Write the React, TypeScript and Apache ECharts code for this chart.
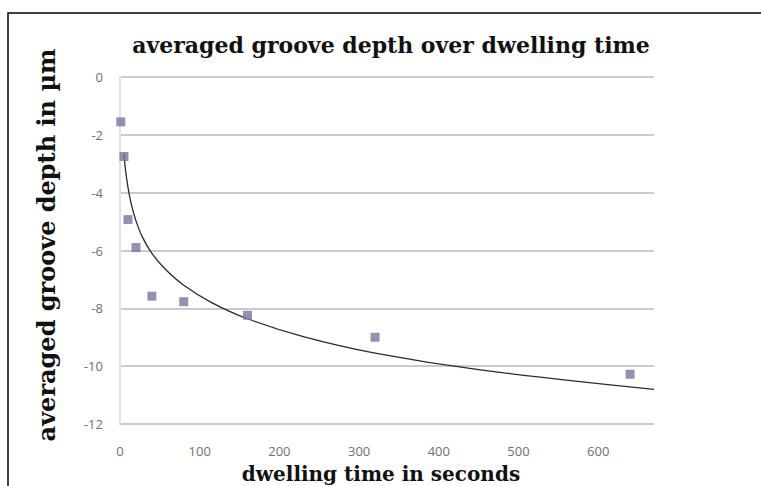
import React, { useEffect, useRef } from "react";
import * as echarts from "echarts";

const TITLE = "averaged groove depth over dwelling time";
const X_NAME = "dwelling time in seconds";
const Y_NAME = "averaged groove depth in µm";

// measured points: [dwelling time (s), groove depth (µm)]
const dwellTimes = [1, 5, 10, 20, 40, 80, 160, 320, 640];
const depths = [-1.55, -2.75, -4.93, -5.9, -7.58, -7.77, -8.24, -9.0, -10.28];

// logarithmic trend line
const trendX = [5, 7, 10, 14, 20, 28, 40, 56, 80, 115, 160, 230, 320, 450, 670];
const trendY = [-2.67, -3.23, -3.82, -4.38, -4.97, -5.53, -6.1, -6.62, -7.2, -7.8, -8.36, -8.98, -9.55, -10.12, -10.8];

const X_MIN = 0;
const X_MAX = 670;
const X_STEP = 100;
const Y_MIN = -12;
const Y_MAX = 0;
const Y_STEP = 2;

export default function App() {
  const ref = useRef<HTMLDivElement>(null);
  useEffect(() => {
    if (!ref.current) return;
    const chart = echarts.init(ref.current, undefined, { renderer: "svg" });
    const serif = "'DejaVu Serif', serif";
    chart.setOption({
      animation: false,
      backgroundColor: "#ffffff",
      grid: { left: 120, right: 107, top: 77, bottom: 62, containLabel: false },
      xAxis: {
        type: "value",
        min: X_MIN,
        max: X_MAX,
        interval: X_STEP,
        axisLine: { show: false },
        axisTick: { show: false },
        splitLine: { show: false },
        axisLabel: {
          showMaxLabel: false,
          color: "#6f6f6f",
          fontFamily: "'Open Sans', sans-serif",
          fontSize: 13,
          margin: 20,
        },
      },
      yAxis: {
        type: "value",
        min: Y_MIN,
        max: Y_MAX,
        interval: Y_STEP,
        axisLine: { show: true, lineStyle: { color: "#e2e2e2", width: 2 } },
        axisTick: { show: false },
        splitLine: { show: true, lineStyle: { color: "#b9b9b9", width: 1.5 } },
        axisLabel: {
          color: "#6f6f6f",
          fontFamily: "'Open Sans', sans-serif",
          fontSize: 13,
          margin: 17,
        },
      },
      graphic: [
        {
          type: "rect",
          z: -10,
          silent: true,
          shape: { x: 8, y: 13, width: 800, height: 520 },
          style: { fill: "none", stroke: "#000", lineWidth: 1.5 },
        },
        {
          type: "text",
          x: 391,
          y: 45,
          style: {
            text: TITLE,
            fontFamily: serif,
            fontWeight: "bold",
            fontSize: 22,
            fill: "#111",
            textAlign: "center",
            textVerticalAlign: "middle",
          },
        },
        {
          type: "text",
          x: 381,
          y: 474,
          style: {
            text: X_NAME,
            fontFamily: serif,
            fontWeight: "bold",
            fontSize: 20,
            fill: "#111",
            textAlign: "center",
            textVerticalAlign: "middle",
          },
        },
        {
          type: "text",
          x: 46,
          y: 245,
          rotation: Math.PI / 2,
          style: {
            text: Y_NAME,
            fontFamily: serif,
            fontWeight: "bold",
            fontSize: 24,
            fill: "#111",
            textAlign: "center",
            textVerticalAlign: "middle",
          },
        },
      ],
      series: [
        {
          type: "line",
          data: trendX.map((x, i) => [x, trendY[i]]),
          smooth: 0.4,
          showSymbol: false,
          symbol: "none",
          lineStyle: { color: "#2a2a2a", width: 1.3 },
          z: 2,
        },
        {
          type: "scatter",
          data: dwellTimes.map((x, i) => [x, depths[i]]),
          symbol: "rect",
          symbolSize: 9,
          itemStyle: { color: "#77779a" },
          z: 3,
        },
      ],
    });
    return () => chart.dispose();
  }, []);
  return (
    <div
      ref={ref}
      style={{ position: "absolute", left: 0, top: 0, width: 761, height: 486, overflow: "hidden" }}
    />
  );
}
